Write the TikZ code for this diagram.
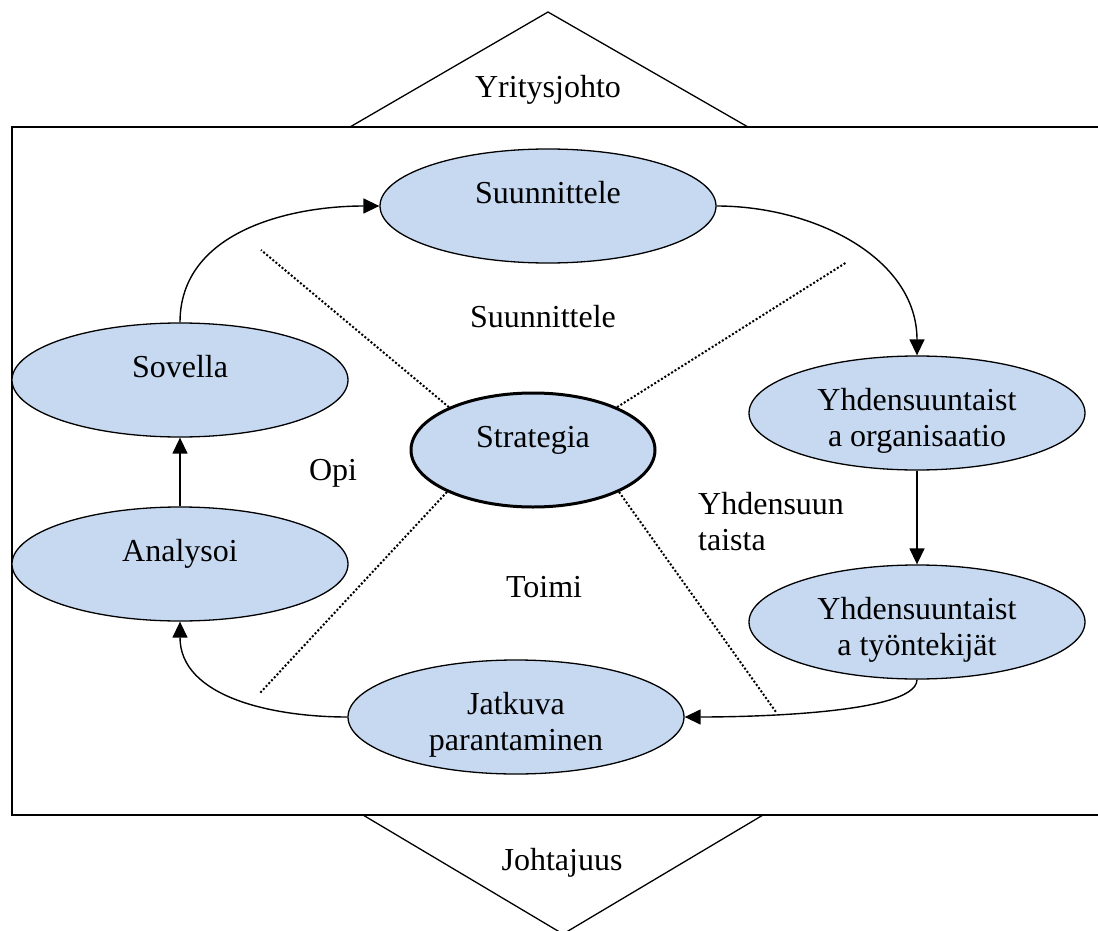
\documentclass[tikz,border=0pt]{standalone}
\usepackage{fontspec}
\setmainfont{Liberation Serif}
\usetikzlibrary{shapes.geometric,arrows.meta}
\definecolor{ovalblue}{RGB}{198,217,241}

\begin{document}
\begin{tikzpicture}[x=1pt,y=-1pt,inner sep=0pt,font=\fontsize{32}{36}\selectfont,
    oval/.style={ellipse,draw,fill=ovalblue,line width=1.3pt,minimum width=336pt,minimum height=114pt,
        text width=230pt,align=flush center,text height=22pt,text depth=28pt},
    flow/.style={line width=1.4pt,-{Triangle[length=16pt,width=15pt]}},
    divider/.style={line width=2pt,dash pattern=on 2pt off 2pt}]
            \useasboundingbox (0,0) rectangle (1098,931);
            \draw[line width=2pt] (1110,127) -- (12,127) -- (12,815) -- (1110,815);
            \draw[line width=1.3pt] (350,127) -- (548,12) -- (748,127);
            \draw[line width=1.3pt] (363,815) -- (563,934) -- (763,815);
            \node[anchor=base] (yjohto) at (548,98) {Yritysjohto};
            \node[anchor=base] (johtaj) at (562,870) {Johtajuus};
            \coordinate (d1) at (261,250);
            \coordinate (d2) at (847,262);
            \coordinate (d3) at (260,693);
            \coordinate (d4) at (776,712);
            \node[oval,minimum width=244pt,text width=150pt,line width=3pt] (strat) at (533,450) {Strategia};
            \foreach \a/\i in {153/1, 27/2, 206/3, 334/4} {
                \draw[divider] (strat.\a) -- (d\i);
            }
            \foreach \n/\x/\y/\txt in {suun/548/206/Suunnittele, sov/180/380/Sovella, anal/180/564/Analysoi,
                    yorg/917/413/{Yhdensuuntaist\\a organisaatio}, ytyo/917/622/{Yhdensuuntaist\\a työntekijät},
                    jatk/516/717/{Jatkuva\\parantaminen}} {
                \node[oval] (\n) at (\x,\y) {\txt};
            }
            \node[anchor=base] (lsuun) at (543,327) {Suunnittele};
            \node[anchor=base] (lopi) at (333,480) {Opi};
            \node[anchor=base] (ltoimi) at (544,597) {Toimi};
            \node[anchor=base west,text width=160pt,align=flush left] (lyhd) at (698,514) {Yhdensuun\\taista};
            \draw[flow] (sov) to[out=90,in=180] (suun);
            \draw[flow] (suun) to[out=0,in=90] (yorg);
            \draw[flow] (yorg) -- (ytyo);
            \draw[flow] (ytyo) to[out=-90,in=0,looseness=0.4] (jatk);
            \draw[flow] (jatk) to[out=180,in=-90] (anal);
            \draw[flow] (anal) -- (sov);
        \end{tikzpicture}
\end{document}
